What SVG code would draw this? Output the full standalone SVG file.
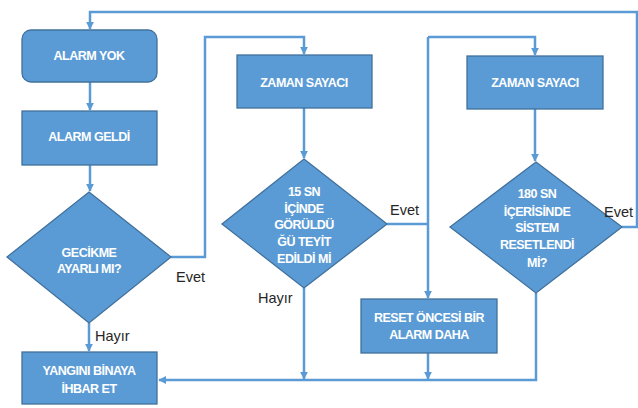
<svg xmlns="http://www.w3.org/2000/svg" width="638" height="408" viewBox="0 0 638 408">
<defs>
<style>
.n{fill:#5B9BD5;stroke:#41719C;stroke-width:1.3}
.t{font-family:"Liberation Sans",Arial,sans-serif;font-weight:bold;font-size:12.5px;fill:#fff;text-anchor:middle;letter-spacing:-0.5px}
.c{fill:none;stroke:#5B9BD5;stroke-width:2.5}
.l{font-family:"Liberation Sans",Arial,sans-serif;font-size:14.5px;fill:#262626}
</style>
<marker id="a" viewBox="0 0 10 10" refX="9" refY="5" markerWidth="3.2" markerHeight="3.2" orient="auto" markerUnits="strokeWidth">
<path d="M0,0 L10,5 L0,10 z" fill="#5B9BD5"/>
</marker>
</defs>
<rect width="638" height="408" fill="#fff"/>
<g id="connectors">
<path class="c" d="M90,82 V110" marker-end="url(#a)"/>
<path class="c" d="M90,165 V191" marker-end="url(#a)"/>
<path class="c" d="M171,257 H205 V37 H304 V54" marker-end="url(#a)"/>
<path class="c" d="M304,108 V158" marker-end="url(#a)"/>
<path class="c" d="M387,224 H428"/>
<path class="c" d="M428,37 V298" marker-end="url(#a)"/>
<path class="c" d="M428,37 H535 V55" marker-end="url(#a)"/>
<path class="c" d="M535,109 V161" marker-end="url(#a)"/>
<path class="c" d="M622,227 H637 V12 H90 V29" marker-end="url(#a)"/>
<path class="c" d="M536,293 V380 H159" marker-end="url(#a)"/>
<path class="c" d="M304,288 V379" marker-end="url(#a)"/>
<path class="c" d="M428,353 V379" marker-end="url(#a)"/>
<path class="c" d="M89,323 V351" marker-end="url(#a)"/>
</g>
<g id="alarm-yok">
<rect class="n" x="22" y="30" width="135" height="52" rx="9"/>
<text class="t" x="89" y="60">ALARM YOK</text>
</g>
<g id="alarm-geldi">
<rect class="n" x="22" y="111" width="135" height="54"/>
<text class="t" x="89" y="141">ALARM GELDİ</text>
</g>
<g id="gecikme">
<polygon class="n" points="89,192 171,257 89,323 7,257"/>
<text class="t" x="89" y="257">GECİKME</text>
<text class="t" x="89" y="272.5">AYARLI MI?</text>
</g>
<g id="zaman1">
<rect class="n" x="237" y="55" width="135" height="53"/>
<text class="t" x="304" y="87">ZAMAN SAYACI</text>
</g>
<g id="karar15">
<polygon class="n" points="304,159 387,224 304,288 222,224"/>
<text class="t" x="304" y="196">15 SN</text>
<text class="t" x="304" y="212.5">İÇİNDE</text>
<text class="t" x="304" y="229">GÖRÜLDÜ</text>
<text class="t" x="304" y="246">ĞÜ TEYİT</text>
<text class="t" x="304" y="263">EDİLDİ Mİ</text>
</g>
<g id="zaman2">
<rect class="n" x="467" y="56" width="136" height="53"/>
<text class="t" x="535" y="87">ZAMAN SAYACI</text>
</g>
<g id="karar180">
<polygon class="n" points="536,162 622,227 536,293 450,227"/>
<text class="t" x="537" y="198">180 SN</text>
<text class="t" x="537" y="215.5">İÇERİSİNDE</text>
<text class="t" x="537" y="232">SİSTEM</text>
<text class="t" x="537" y="249">RESETLENDİ</text>
<text class="t" x="537" y="266.5">Mİ?</text>
</g>
<g id="reset">
<rect class="n" x="361" y="299" width="136" height="54"/>
<text class="t" x="429" y="322">RESET ÖNCESİ BİR</text>
<text class="t" x="429" y="339">ALARM DAHA</text>
</g>
<g id="yangin">
<rect class="n" x="22" y="352" width="135" height="52"/>
<text class="t" x="89" y="375">YANGINI BİNAYA</text>
<text class="t" x="89" y="392.5">İHBAR ET</text>
</g>
<g id="labels">
<text class="l" x="176" y="282">Evet</text>
<text class="l" x="95" y="341">Hayır</text>
<text class="l" x="258" y="303">Hayır</text>
<text class="l" x="390" y="215">Evet</text>
<text class="l" x="604" y="217">Evet</text>
</g>
</svg>
